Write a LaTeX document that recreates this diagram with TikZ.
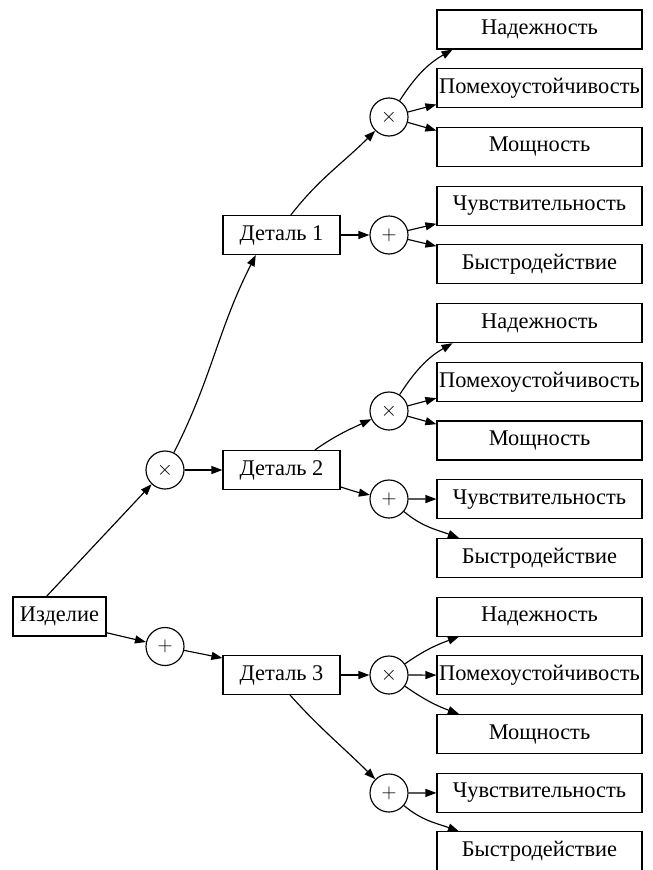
\documentclass[tikz,border=0pt]{standalone}
\usepackage{fontspec}
\setmainfont{Liberation Serif}
\usetikzlibrary{arrows.meta}

\tikzset{
  every picture/.style={x=1pt,y=1pt},
  lbl/.style={font=\fontsize{22.4}{25}\selectfont},
  leaf/.style={draw,rectangle,lbl,minimum width=205pt,minimum height=39pt,inner sep=0pt},
  part/.style={draw,rectangle,lbl,minimum width=117pt,minimum height=39pt,inner sep=0pt},
  root/.style={draw,rectangle,lbl,minimum width=93pt,minimum height=39pt,inner sep=0pt},
  op/.style={draw,circle,minimum size=38pt,inner sep=0pt,font=\fontsize{20}{22}\selectfont},
  link/.style={-{Triangle[length=11pt,width=8pt]}},
}

\begin{document}
\begin{tikzpicture}[line width=1.15pt]
\useasboundingbox (0,0) rectangle (653,-870);

% leaves of the right column
\node[leaf] (n1) at (539.5,-29.5)  {Надежность};
\node[leaf] (h1) at (539.5,-88.2)  {Помехоустойчивость};
\node[leaf] (m1) at (539.5,-146.9) {Мощность};
\node[leaf] (c1) at (539.5,-205.6) {Чувствительность};
\node[leaf] (b1) at (539.5,-264.3) {Быстродействие};
\node[leaf] (n2) at (539.5,-323.1) {Надежность};
\node[leaf] (h2) at (539.5,-381.8) {Помехоустойчивость};
\node[leaf] (m2) at (539.5,-440.5) {Мощность};
\node[leaf] (c2) at (539.5,-499.2) {Чувствительность};
\node[leaf] (b2) at (539.5,-557.9) {Быстродействие};
\node[leaf] (n3) at (539.5,-616.6) {Надежность};
\node[leaf] (h3) at (539.5,-675.3) {Помехоустойчивость};
\node[leaf] (m3) at (539.5,-734.0) {Мощность};
\node[leaf] (c3) at (539.5,-792.7) {Чувствительность};
\node[leaf] (b3) at (539.5,-851.4) {Быстродействие};

% operators of the right column
\node[op] (x1) at (389,-117) {$\times$};
\node[op] (p1) at (389,-235) {$+$};
\node[op] (x2) at (389,-411) {$\times$};
\node[op] (p2) at (389,-499) {$+$};
\node[op] (x3) at (389,-675) {$\times$};
\node[op] (p3) at (389,-793) {$+$};

% parts
\node[part] (d1) at (281.5,-235) {Деталь 1};
\node[part] (d2) at (281.5,-470) {Деталь 2};
\node[part] (d3) at (281.5,-675) {Деталь 3};

% left operators and the product
\node[op] (xl) at (165,-470) {$\times$};
\node[op] (pl) at (165,-646.5) {$+$};
\node[root] (izd) at (59.5,-616.5) {Изделие};

% product level
\draw[link] (izd.123) -- (xl);
\draw[link] (izd.-19.5) -- (pl);
\draw[link] (xl) to[out=63,in=-117] (d1.-142);
\draw[link] (xl) -- (d2);
\draw[link] (pl) -- (d3.164);

% part level
\draw[link] (d1.65) to[out=52,in=-135] (x1);
\draw[link] (d1) -- (p1);
\draw[link] (d2.31) to[out=35,in=-155] (x2);
\draw[link] (d2.-16) to[out=-18,in=168] (p2);
\draw[link] (d3) -- (x3);
\draw[link] (d3.-67) to[out=-48,in=135] (p3);

% parameter level
\draw[link] (x1) to[out=57,in=-150] (n1.-167);
\draw[link] (x1) -- (h1.-171);
\draw[link] (x1) -- (m1.171);
\draw[link] (p1) -- (c1.-170);
\draw[link] (p1) -- (b1.170);

\draw[link] (x2) to[out=57,in=-150] (n2.-167);
\draw[link] (x2) -- (h2.-171);
\draw[link] (x2) -- (m2.171);
\draw[link] (p2) -- (c2);
\draw[link] (p2) to[out=-40,in=160] (b2.166);

\draw[link] (x3) to[out=35,in=-160] (n3.-166);
\draw[link] (x3) -- (h3);
\draw[link] (x3) to[out=-35,in=160] (m3.166);
\draw[link] (p3) -- (c3);
\draw[link] (p3) to[out=-40,in=160] (b3.166);
\end{tikzpicture}
\end{document}
